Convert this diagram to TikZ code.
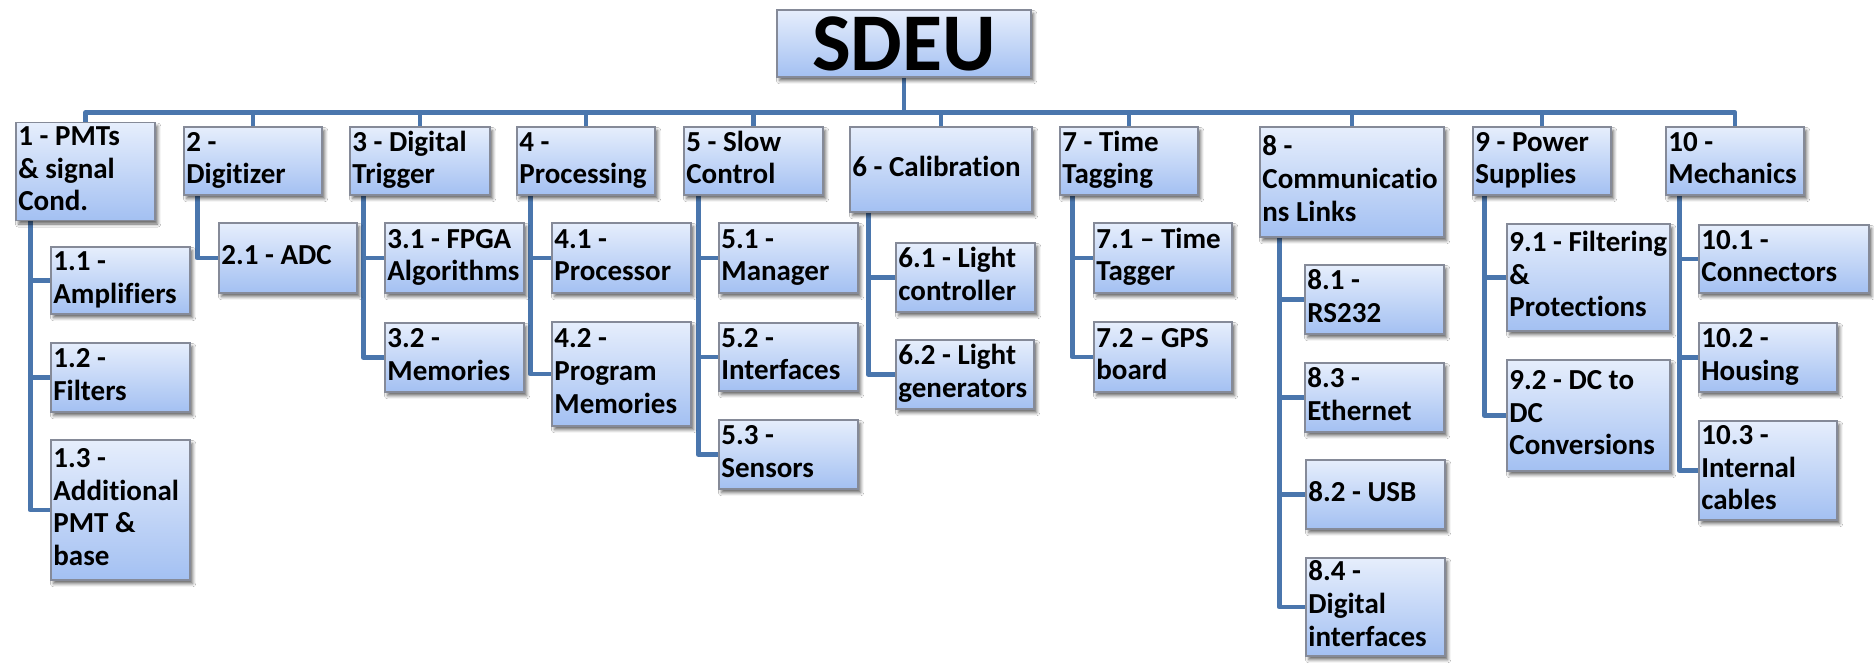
\documentclass[tikz,border=0pt]{standalone}
\usepackage{fontspec}
\setmainfont{Carlito}[Ligatures=NoCommon]
\usetikzlibrary{shadows.blur,backgrounds}

\definecolor{linkblue}{HTML}{4A76AD}
\definecolor{boxedge}{HTML}{858A98}
\definecolor{boxtop}{HTML}{E6EEFC}
\definecolor{boxbot}{HTML}{A3C0F2}

\tikzset{
  wbsbox/.style={draw=boxedge, line width=0.7pt, top color=boxtop, bottom color=boxbot,
    blur shadow={shadow xshift=1.3pt, shadow yshift=-1.8pt, shadow blur radius=1.6pt, shadow opacity=60},
    inner xsep=1.2pt, inner ysep=0pt, anchor=center,
    font=\bfseries\fontsize{14.5}{16.3}\selectfont},
  link/.style={draw=linkblue, line width=2.4pt, line join=round},
}

% box from corner (x1,y1) to (x2,y2), in pixel-like units; text set left, lines never broken
\newcommand\wbsnode[6]{%
  \pgfmathsetmacro\wbsw{(#4-#2)*0.5}%
  \pgfmathsetmacro\wbsh{(#5-#3)*0.5}%
  \pgfmathsetmacro\wbst{\wbsw-2.4}%
  \node[wbsbox, minimum width=\wbsw pt, minimum height=\wbsh pt]
    (#1) at ({(#2+#4)/2},{(#3+#5)/2})
    {\makebox[\wbst pt][l]{\begin{tabular}{@{}l@{}}#6\end{tabular}}};%
}

\begin{document}
\begin{tikzpicture}[x=0.5pt, y=-0.5pt]
\useasboundingbox (0,0) rectangle (1874,664);

% top node
\node[wbsbox, minimum width=127pt, minimum height=33.5pt, inner sep=0pt,
      font=\bfseries\fontsize{41}{45}\selectfont] (root) at (904,43.5) {SDEU};

% first level
\wbsnode{n1}{16}{127}{155}{216}{1 - PMTs\\\& signal\\Cond.}
\wbsnode{n2}{184}{127}{322}{195}{2 -\\Digitizer}
\wbsnode{n3}{350}{127}{490}{195}{3 - Digital\\Trigger}
\wbsnode{n4}{517}{127}{655}{195}{4 -\\Processing}
\wbsnode{n5}{684}{127}{823}{195}{5 - Slow\\Control}
\wbsnode{n6}{850}{127}{1032}{212}{6 - Calibration}
\wbsnode{n7}{1060}{127}{1198}{195}{7 - Time\\Tagging}
\wbsnode{n8}{1260}{127}{1444}{237}{8 -\\Communicatio\\ns Links}
\wbsnode{n9}{1473}{127}{1611}{195}{9 - Power\\Supplies}
\wbsnode{n10}{1666}{127}{1804}{195}{10 -\\Mechanics}

% second level
\wbsnode{n11}{51}{247}{190}{314}{1.1 -\\Amplifiers}
\wbsnode{n12}{51}{343}{190}{412}{1.2 -\\Filters}
\wbsnode{n13}{51}{440}{190}{580}{1.3 -\\Additional\\PMT \&\\base}
\wbsnode{n21}{219}{223}{357}{293}{2.1 - ADC}
\wbsnode{n31}{385}{223}{524}{293}{3.1 - FPGA\\Algorithms}
\wbsnode{n32}{385}{323}{524}{392}{3.2 -\\Memories}
\wbsnode{n41}{552}{223}{691}{293}{4.1 -\\Processor}
\wbsnode{n42}{552}{322}{691}{426}{4.2 -\\Program\\Memories}
\wbsnode{n51}{719}{223}{858}{293}{5.1 -\\Manager}
\wbsnode{n52}{719}{323}{858}{391}{5.2 -\\Interfaces}
\wbsnode{n53}{719}{420}{858}{489}{5.3 -\\Sensors}
\wbsnode{n61}{896}{243}{1035}{312}{6.1 - Light\\controller}
\wbsnode{n62}{896}{340}{1034}{409}{6.2 - Light\\generators}
\wbsnode{n71}{1094}{223}{1232}{293}{7.1 – Time\\Tagger}
\wbsnode{n72}{1094}{322}{1232}{392}{7.2 – GPS\\board}
\wbsnode{n81}{1305}{265}{1444}{334}{8.1 -\\RS232}
\wbsnode{n83}{1305}{363}{1444}{432}{8.3 -\\Ethernet}
\wbsnode{n82}{1306}{460}{1445}{529}{8.2 - USB}
\wbsnode{n84}{1306}{558}{1445}{656}{8.4 -\\Digital\\interfaces}
\wbsnode{n91}{1507}{224}{1670}{331}{9.1 - Filtering\\\&\\Protections}
\wbsnode{n92}{1507}{360}{1670}{471}{9.2 - DC to\\DC\\Conversions}
\wbsnode{n101}{1699}{225}{1869}{293}{10.1 -\\Connectors}
\wbsnode{n102}{1699}{323}{1837}{392}{10.2 -\\Housing}
\wbsnode{n103}{1699}{421}{1837}{520}{10.3 -\\Internal\\cables}

\coordinate (bar) at (904,112.5);

\begin{scope}[on background layer]
  \fill[white] (0,0) rectangle (1874,664);
  % root to first level
  \foreach \n in {n1,n2,n3,n4,n5,n6,n7,n8,n9,n10}
    \draw[link] (root.south) |- (\n.north |- bar) -- (\n.north);
  % first level to second level
  \foreach \p/\dx/\kids in {n1/7.5/{n11,n12,n13}, n2/7/{n21}, n3/7/{n31,n32},
      n4/7/{n41,n42}, n5/7.5/{n51,n52,n53}, n6/9.5/{n61,n62}, n7/6.5/{n71,n72},
      n8/10/{n81,n83,n82,n84}, n9/6/{n91,n92}, n10/7/{n101,n102,n103}}
    \foreach \c in \kids
      \draw[link] ([xshift=\dx pt]\p.south west) |- (\c.west);
\end{scope}
\end{tikzpicture}
\end{document}
